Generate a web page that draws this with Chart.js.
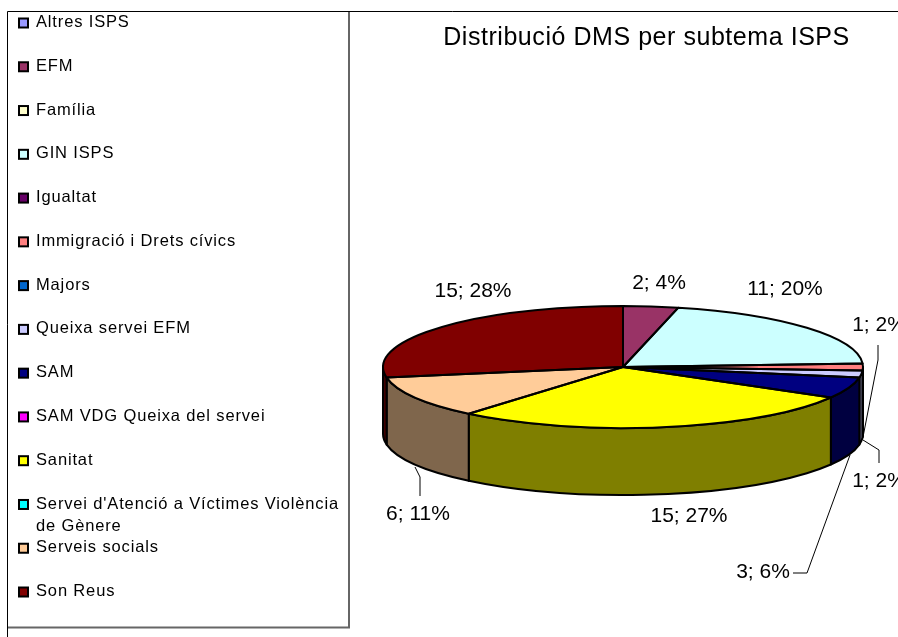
<!DOCTYPE html>
<html><head><meta charset="utf-8">
<style>html,body{margin:0;padding:0;background:#fff;overflow:hidden}canvas{display:block}</style>
<script src="https://cdn.jsdelivr.net/npm/chart.js@4"></script></head>
<body><canvas id="c" width="898" height="637"></canvas>
<script>
const titleText = "Distribució DMS per subtema ISPS";
const categories = ["Altres ISPS","EFM","Família","GIN ISPS","Igualtat","Immigració i Drets cívics","Majors","Queixa servei EFM","SAM","SAM VDG Queixa del servei","Sanitat","Servei d'Atenció a Víctimes Violència de Gènere","Serveis socials","Son Reus"];
const values = [0,2,0,11,0,1,0,1,3,0,15,0,6,15];
const percentLabels = ["","4%","","20%","","2%","","2%","6%","","27%","","11%","28%"];
const colors = ["#9999FF","#993366","#FFFFCC","#CCFFFF","#660066","#FF8080","#0066CC","#CCCCFF","#000080","#FF00FF","#FFFF00","#00FFFF","#FFCC99","#800000"];

// layout / styling (not data)
const FONT = '"Liberation Sans", Arial, sans-serif';
const tilt = 61/240, depth = 67;
const labelPlace = {1:[659,283],3:[785,289],5:[879,325],7:[879,481],8:[763,572],10:[689,516],12:[418,514],13:[473,291]};
const leaders = [
  [[415,467],[420,477],[420,496]],
  [[878,345],[878,360],[863,437]],
  [[863,440],[879,450],[879,463]],
  [[793,573],[807,573],[850,455]]
];
const shade = h => { const n=parseInt(h.slice(1),16); return `rgb(${(n>>16)/2|0},${((n>>8)&255)/2|0},${(n&255)/2|0})`; };

const pie3d = {
  id:'pie3d',
  beforeDraw(chart){
    const c = chart.ctx;
    c.save();
    c.fillStyle='#fff'; c.fillRect(0,0,chart.width,chart.height);
    // outer frame
    c.strokeStyle='#000'; c.lineWidth=1;
    c.beginPath(); c.moveTo(7.5,637); c.lineTo(7.5,11.5); c.lineTo(898,11.5); c.stroke();
    // legend box
    c.strokeStyle='#666'; c.lineWidth=2;
    c.beginPath(); c.moveTo(8,627.5); c.lineTo(349,627.5); c.lineTo(349,12); c.stroke();
    // legend
    const items = chart.options.plugins.legend.labels.generateLabels(chart);
    c.font = '16.5px '+FONT; c.letterSpacing='0.85px'; c.textBaseline='middle'; c.textAlign='left';
    items.forEach((it,i)=>{
      const y = 22.5 + i*43.77;
      c.fillStyle = it.fillStyle; c.strokeStyle='#000'; c.lineWidth=2;
      c.fillRect(19,y-4,9,9); c.strokeRect(19,y-4,9,9);
      c.fillStyle='#000';
      const words = String(it.text).split(' ');
      let line='', ly=y;
      words.forEach(w=>{
        const t = line ? line+' '+w : w;
        if (c.measureText(t).width>312 && line){ c.fillText(line,36,ly); ly+=22; line=w; }
        else line=t;
      });
      c.fillText(line,36,ly);
    });
    c.restore();
  },
  beforeDatasetsDraw(chart){
    const c = chart.ctx, arcs = chart.getDatasetMeta(0).data;
    const a0 = arcs[0], cx=a0.x, cy=a0.y, r=a0.outerRadius, ry=r*tilt;
    c.save();
    arcs.forEach((a,i)=>{
      if(!values[i]) return;
      const lo=Math.max(a.startAngle,0), hi=Math.min(a.endAngle,Math.PI);
      if(lo>=hi) return;
      c.beginPath();
      c.ellipse(cx,cy,r,ry,0,lo,hi);
      c.lineTo(cx+r*Math.cos(hi),cy+ry*Math.sin(hi)+depth);
      c.ellipse(cx,cy+depth,r,ry,0,hi,lo,true);
      c.closePath();
      c.fillStyle=shade(colors[i]); c.fill();
      c.strokeStyle='#000'; c.lineWidth=2; c.lineJoin='round'; c.stroke();
    });
    c.restore();
    c.save();
    c.translate(cx,cy); c.scale(1,tilt); c.translate(-cx,-cy);
  },
  afterDatasetsDraw(chart){
    const c = chart.ctx, arcs = chart.getDatasetMeta(0).data;
    c.restore();
    const a0 = arcs[0], cx=a0.x, cy=a0.y, r=a0.outerRadius, ry=r*tilt;
    c.save();
    c.strokeStyle='#000'; c.lineWidth=2; c.lineJoin='round';
    arcs.forEach((a,i)=>{
      if(!values[i]) return;
      c.beginPath(); c.moveTo(cx,cy);
      c.ellipse(cx,cy,r,ry,0,a.startAngle,a.endAngle);
      c.closePath(); c.stroke();
    });
    // leader lines
    c.lineWidth=1; c.strokeStyle='#000'; c.lineJoin='miter';
    leaders.forEach(p=>{ c.beginPath(); p.forEach((q,j)=> j?c.lineTo(q[0],q[1]):c.moveTo(q[0],q[1])); c.stroke(); });
    // data labels
    c.fillStyle='#000'; c.font='21px '+FONT; c.textAlign='center'; c.textBaseline='middle';
    values.forEach((v,i)=>{
      if(!v) return;
      const p=labelPlace[i];
      c.fillText(v+'; '+percentLabels[i],p[0],p[1]);
    });
    // title
    c.font='25px '+FONT; c.letterSpacing='0.55px';
    c.fillText(titleText,646.5,38.5);
    c.restore();
  }
};

new Chart(document.getElementById('c'),{
  type:'pie',
  data:{labels:categories,datasets:[{data:values,backgroundColor:colors,borderWidth:0,clip:false}]},
  options:{
    responsive:false,animation:false,
    events:[],
    layout:{padding:{left:383,right:35,top:127,bottom:30}},
    plugins:{legend:{display:false},tooltip:{enabled:false},title:{display:false,text:titleText}}
  },
  plugins:[pie3d]
});
</script></body></html>
